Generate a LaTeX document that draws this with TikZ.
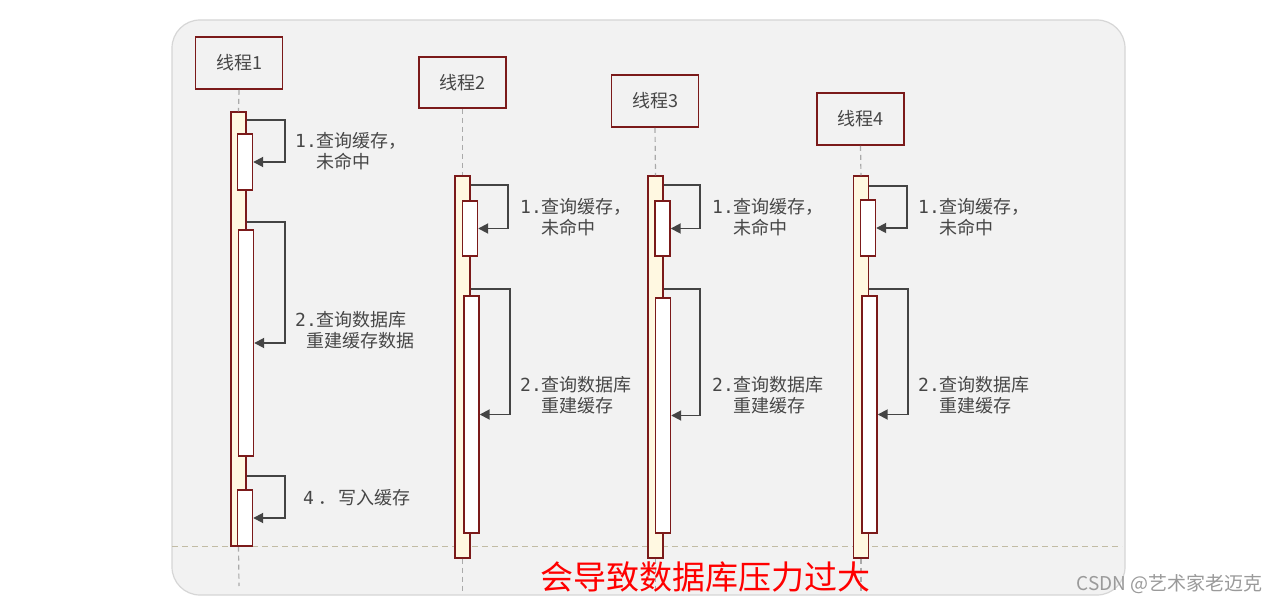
\documentclass[tikz,border=0pt]{standalone}
\usepackage{fontspec}
\setmainfont{Noto Sans CJK SC}
\newfontfamily\monof{DejaVu Sans Mono}
\usetikzlibrary{arrows.meta}
\definecolor{boxred}{HTML}{7B1A1A}
\definecolor{cream}{HTML}{FFF8E1}
\definecolor{panel}{HTML}{F2F2F2}
\definecolor{panelline}{HTML}{D6D6D6}
\definecolor{txt}{HTML}{464646}
\definecolor{arr}{HTML}{444444}
\definecolor{life}{HTML}{AAAAAA}
\definecolor{sepline}{HTML}{C2BCA5}
\definecolor{wm}{HTML}{9A9A9A}
\begin{document}
\begin{tikzpicture}[x=1pt,y=-1pt,
 thread/.style={draw=boxred, line width=1.8pt, fill=panel, minimum width=87pt, minimum height=52pt, inner sep=0pt, font=\fontsize{18}{21}\selectfont, text=txt},
 outer/.style={draw=boxred, line width=1.4pt, fill=cream, minimum width=15pt, inner sep=0pt},
 innerbox/.style={draw=boxred, line width=1.4pt, fill=white, minimum width=15pt, inner sep=0pt},
 msg/.style={draw=arr, line width=1.8pt, -{Triangle[length=10pt,width=10pt]}},
 lifeline/.style={draw=life, line width=1.2pt, dash pattern=on 5pt off 4pt},
 lbl/.style={anchor=west, inner sep=0pt, align=left, text=txt, font=\fontsize{18}{21.5}\selectfont}]
\useasboundingbox (0,0) rectangle (1278,604);
\fill[white] (0,0) rectangle (1278,604);
\filldraw[fill=panel, draw=panelline, line width=1.2pt, rounded corners=28pt] (172,20) rectangle (1125,595);
% separator
\draw[sepline, line width=1pt, dash pattern=on 6pt off 4pt] (172,546) -- (1122,546);

% headers
\node[thread] (t1) at (239,63) {线程1};
\node[thread, minimum height=51pt] (t2) at (462.5,82.5) {线程2};
\node[thread] (t3) at (655,101) {线程3};
\node[thread] (t4) at (860.5,119) {线程4};

% bottom ends of lifelines
\coordinate (e1) at (239,586);
\coordinate (e2) at (462.5,594);
\coordinate (e3) at (655.5,594);
\coordinate (e4) at (861,594);

% activations
\node[outer, minimum height=434pt] (a1) at (238.5,329) {};
\node[outer, minimum height=382pt] (a2) at (462.5,367) {};
\node[outer, minimum height=382pt] (a3) at (655.5,367) {};
\node[outer, minimum height=382pt] (a4) at (861,367) {};

\draw[lifeline] (t1.south) -- (a1.north);
\draw[lifeline] (a1.south) -- (e1);
\draw[lifeline] (t2.south) -- (a2.north);
\draw[lifeline] (a2.south) -- (e2);
\draw[lifeline] (t3.south) -- (a3.north);
\draw[lifeline] (a3.south) -- (e3);
\draw[lifeline] (t4.south) -- (a4.north);
\draw[lifeline] (a4.south) -- (e4);

\node[innerbox, minimum height=56pt] (i11) at (245,162) {};
\node[innerbox, minimum height=226pt] (i12) at (246,343) {};
\node[innerbox, minimum height=56pt] (i13) at (245,518) {};

\node[innerbox, minimum height=55pt] (i21) at (470,228.5) {};
\node[innerbox, minimum height=237pt] (i22) at (471.5,414.5) {};

\node[innerbox, minimum height=55pt] (i31) at (662.5,228.5) {};
\node[innerbox, minimum height=235pt] (i32) at (663,415.5) {};

\node[innerbox, minimum height=56pt] (i41) at (868,228) {};
\node[innerbox, minimum height=237pt] (i42) at (869.5,414.5) {};

% self messages
\draw[msg] (a1.east |- 0,120) -- (285,120) |- (i11.east);
\draw[msg] (a1.east |- 0,222) -- (285,222) |- (i12.east);
\draw[msg] (a1.east |- 0,476) -- (285,476) |- (i13.east);

\draw[msg] (a2.east |- 0,185) -- (508,185) |- (i21.east);
\draw[msg] (a2.east |- 0,289) -- (510,289) |- (i22.east);

\draw[msg] (a3.east |- 0,185) -- (700,185) |- (i31.east);
\draw[msg] (a3.east |- 0,289) -- (700,289) |- (i32.east);

\draw[msg] (a4.east |- 0,186) -- (907,186) |- (i41.east);
\draw[msg] (a4.east |- 0,289) -- (908,289) |- (i42.east);

% labels
\node[lbl] (l11) at (295,151) {{\monof 1.}查询缓存，\\\phantom{\monof 1.}未命中};
\node[lbl] (l12) at (295,330) {{\monof 2.}查询数据库\\\hspace*{11pt}重建缓存数据};
\node[lbl] (l14) at (303,498) {{\monof 4}\hspace{4pt}．\hspace{2pt}写入缓存};

\node[lbl] (l21) at (520,217) {{\monof 1.}查询缓存，\\\phantom{\monof 1.}未命中};
\node[lbl] (l22) at (520,395) {{\monof 2.}查询数据库\\\phantom{\monof 2.}重建缓存};

\node[lbl] (l31) at (712,217) {{\monof 1.}查询缓存，\\\phantom{\monof 1.}未命中};
\node[lbl] (l32) at (712,395) {{\monof 2.}查询数据库\\\phantom{\monof 2.}重建缓存};

\node[lbl] (l41) at (918,217) {{\monof 1.}查询缓存，\\\phantom{\monof 1.}未命中};
\node[lbl] (l42) at (918,395) {{\monof 2.}查询数据库\\\phantom{\monof 2.}重建缓存};

% conclusion
\node[inner sep=0pt, text=red, font=\fontsize{33}{36}\selectfont] (concl) at (705,577) {会导致数据库压力过大};

% watermark
\node[anchor=east, inner sep=0pt, text=wm, font=\fontsize{19}{22}\selectfont] (wmk) at (1263,584) {CSDN @艺术家老迈克};
\end{tikzpicture}
\end{document}
